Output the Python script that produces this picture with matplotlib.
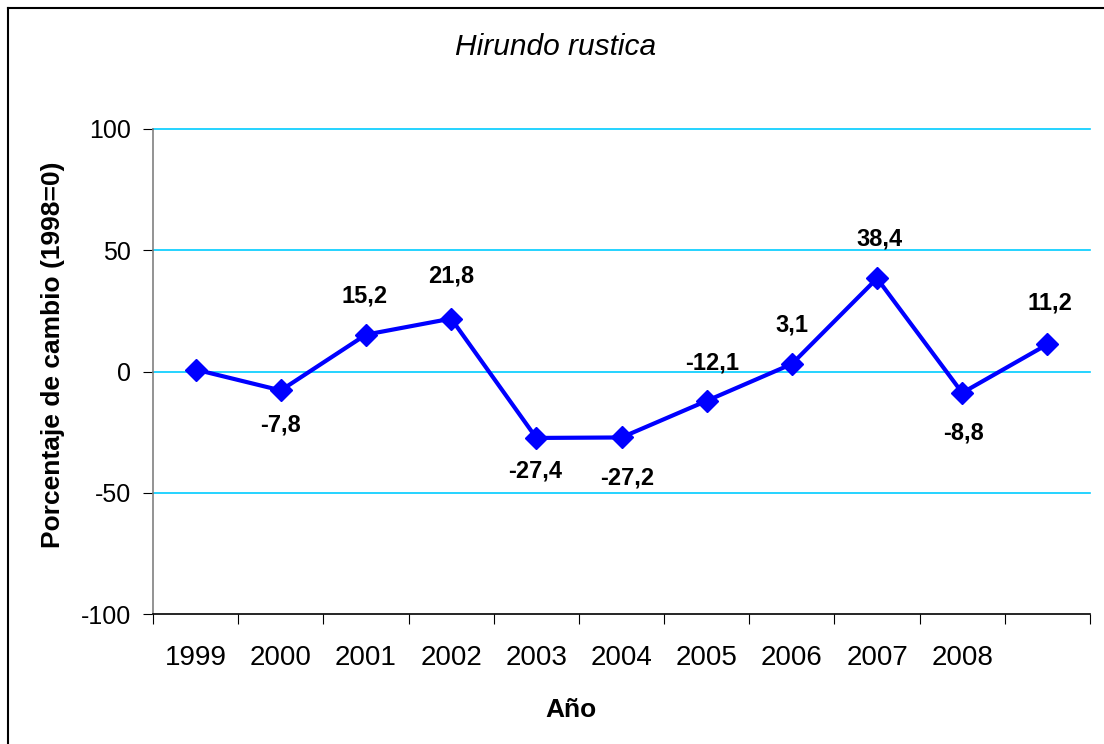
import matplotlib.pyplot as plt
from matplotlib.lines import Line2D

plt.rcParams['font.family'] = ['Liberation Sans', 'DejaVu Sans']

years = ['1999', '2000', '2001', '2002', '2003', '2004', '2005', '2006', '2007', '2008']
values = [0.8, -7.8, 15.2, 21.8, -27.4, -27.2, -12.1, 3.1, 38.4, -8.8, 11.2]
point_labels = [None, '-7,8', '15,2', '21,8', '-27,4', '-27,2', '-12,1', '3,1', '38,4', '-8,8', '11,2']
# label offsets in points (dx, dy), placed by hand like the original
label_offsets = [None, (0, -25), (-1, 28), (0, 31), (-1, -24), (4, -29),
                 (4, 27), (0, 28), (2, 28), (1, -29), (2, 30)]

fig = plt.figure(figsize=(11.04, 7.44), dpi=100)
ax = fig.add_axes([153 / 1104, 130 / 744, 937 / 1104, 485 / 744])

x = list(range(len(values)))
ax.plot(x, values, color='#0000FF', lw=3, marker='D', ms=11, zorder=3)

for xi, v, lab, off in zip(x, values, point_labels, label_offsets):
    if lab is None:
        continue
    ax.annotate(lab, (xi, v), xytext=off, textcoords='offset points',
                ha='center', va='center', fontsize=17, fontweight='bold')

ax.set_xlim(-0.5, len(values) - 0.5)
ax.set_ylim(-100, 100)
ax.set_yticks([-100, -50, 0, 50, 100])
ax.set_yticklabels(['-100', '-50', '0', '50', '100'])
for y in [-50, 0, 50, 100]:
    ax.axhline(y, color='#00CCFF', lw=1.2, zorder=1, clip_on=False)

ax.set_xticks([i - 0.5 for i in range(len(values) + 1)])
ax.set_xticklabels([])
ax.set_xticks(range(len(years)), minor=True)
ax.set_xticklabels(years, minor=True)
ax.tick_params(axis='x', which='major', length=7, direction='out', color='black')
ax.tick_params(axis='x', which='minor', length=0, pad=22, labelsize=20)
ax.tick_params(axis='y', length=7, direction='out', pad=9, labelsize=18)

ax.spines['top'].set_visible(False)
ax.spines['right'].set_visible(False)
ax.spines['left'].set_color('#808080')
ax.spines['left'].set_linewidth(1.2)
ax.spines['bottom'].set_color('black')
ax.spines['bottom'].set_linewidth(1.2)

fig.text(556 / 1104, 1 - 47 / 744, 'Hirundo rustica', ha='center', va='center',
         fontsize=21.5, style='italic')
fig.text(571 / 1104, 1 - 710 / 744, 'Año', ha='center', va='center',
         fontsize=19, fontweight='bold')
fig.text(53 / 1104, 1 - 355 / 744, 'Porcentaje de cambio (1998=0)', ha='center',
         va='center', rotation=90, fontsize=19, fontweight='bold')

# outer chart border (only top and left edges show in the crop)
fig.add_artist(Line2D([8 / 1104, 8 / 1104], [0, 1 - 8 / 744], color='black', lw=1.5,
                      transform=fig.transFigure))
fig.add_artist(Line2D([8 / 1104, 1], [1 - 8 / 744, 1 - 8 / 744], color='black', lw=1.5,
                      transform=fig.transFigure))

fig.savefig('out.png', dpi=100)
